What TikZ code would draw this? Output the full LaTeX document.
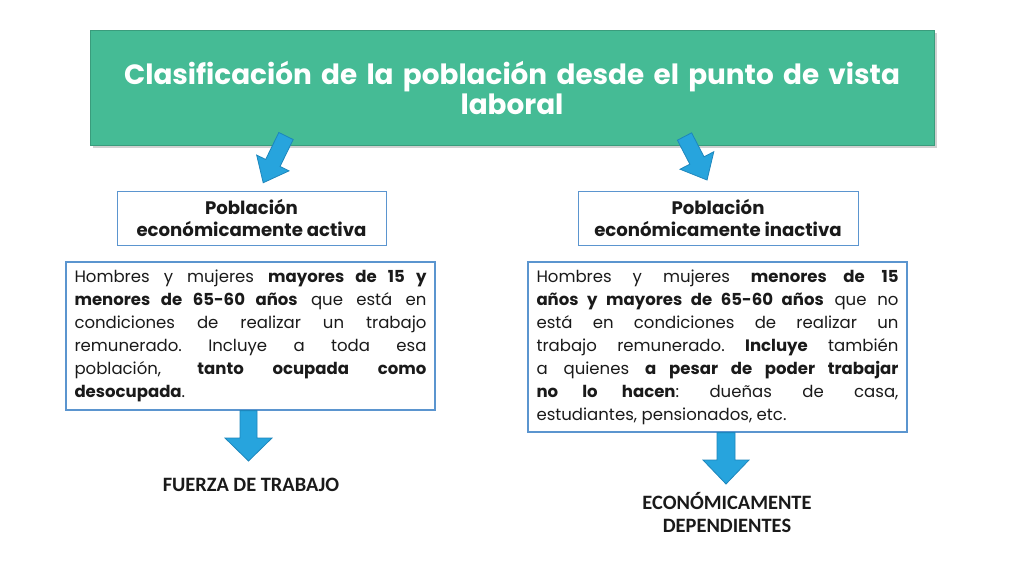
\documentclass[tikz,border=0pt]{standalone}
\usepackage{fontspec}
\setmainfont{Poppins}
\newfontfamily\labfont{Carlito}
\frenchspacing
\definecolor{titlegreen}{HTML}{45BB95}
\definecolor{titleedge}{HTML}{3A9C7C}
\definecolor{arrowfill}{HTML}{27A4DD}
\definecolor{arrowedge}{HTML}{1D86BC}
\definecolor{boxedge}{HTML}{5B95CF}
\definecolor{textdark}{HTML}{1A1A1A}
\tikzset{
  titlebox/.style={draw=titleedge, line width=0.6pt, fill=titlegreen, minimum width=633pt, minimum height=86.25pt, inner sep=0pt},
  headbox/.style={draw=boxedge, line width=0.7pt, fill=white, inner sep=0pt, align=center, text=textdark},
  bodybox/.style={draw=boxedge, line width=0.9pt, fill=white, inner sep=0pt, align=justify, text=textdark},
  barrow/.style={fill=arrowfill, draw=arrowedge, line width=0.6pt, line join=miter},
  endlabel/.style={align=center, text=textdark, font=\labfont\bfseries\fontsize{15.3}{17.25}\selectfont}
}
\begin{document}
\begin{tikzpicture}[x=0.75pt,y=-0.75pt]
\useasboundingbox (0,0) rectangle (1024,576);
\fill[white] (0,0) rectangle (1024,576);
% title shadow
\fill[black!18] (93,33) rectangle (937,148);
\node[titlebox] (title) at (512,87.5) {};
\node[text=white, align=center, text width=620pt, font=\bfseries\fontsize{20.9}{22.5}\selectfont] (titletext) at (512,88)
  {Clasificación de la población desde el punto de vista\\laboral};
% diagonal arrows
\coordinate (la) at (286,136);
\begin{scope}[shift={(la)}, rotate=244]
  \draw[barrow] (0,-8) -- (30,-8) -- (30,-18) -- (52,0) -- (30,18) -- (30,8) -- (0,8) -- cycle;
\end{scope}
\coordinate (ra) at (684.5,136.5);
\begin{scope}[shift={(ra)}, rotate=297.4]
  \draw[barrow] (0,-8) -- (27,-8) -- (27,-19) -- (49,0) -- (27,19) -- (27,8) -- (0,8) -- cycle;
\end{scope}
% header boxes
\node[headbox, minimum width=201.75pt, minimum height=40.5pt,
      font=\bfseries\fontsize{13.6}{16.5}\selectfont] (pea) at (251.5,218)
  {Población\\económicamente activa};
\node[headbox, minimum width=210pt, minimum height=40.5pt,
      font=\bfseries\fontsize{13.6}{16.5}\selectfont] (pei) at (718,218)
  {Población\\económicamente inactiva};
% body boxes
\node[bodybox, text width=264pt, minimum width=276.75pt, minimum height=111pt,
      font=\fontsize{12.4}{17.25}\selectfont] (bl) at (250.5,336)
  {Hombres y mujeres \textbf{mayores de 15 y}\linebreak
   \textbf{menores de 65-60 años} que está en\linebreak
   condiciones de realizar un trabajo\linebreak
   remunerado. Incluye a toda esa\linebreak
   población, \textbf{tanto ocupada como}\linebreak
   \textbf{desocupada}.};
\node[bodybox, text width=271.5pt, minimum width=284.25pt, minimum height=127.5pt,
      font=\fontsize{12.4}{17.25}\selectfont] (br) at (717.5,347)
  {Hombres y mujeres \textbf{menores de 15}\linebreak
   \textbf{años y mayores de 65-60 años} que no\linebreak
   está en condiciones de realizar un\linebreak
   trabajo remunerado. \textbf{Incluye} también\linebreak
   a quienes \textbf{a pesar de poder trabajar}\linebreak
   \textbf{no lo hacen}: dueñas de casa,\linebreak
   estudiantes, pensionados, etc.};
% down arrows
\draw[barrow] (bl.south -| 240,0) -- (240,438) -- (225,438) -- (248.5,461) -- (272,438) -- (257,438) -- (bl.south -| 257,0) -- cycle;
\draw[barrow] (br.south -| 717,0) -- (717,460) -- (703,460) -- (726,484) -- (749,460) -- (735,460) -- (br.south -| 735,0) -- cycle;
% end labels
\node[endlabel] (ft) at (251,485) {FUERZA DE TRABAJO};
\node[endlabel] (ed) at (727,512.5) {ECONÓMICAMENTE\\DEPENDIENTES};
\end{tikzpicture}
\end{document}
